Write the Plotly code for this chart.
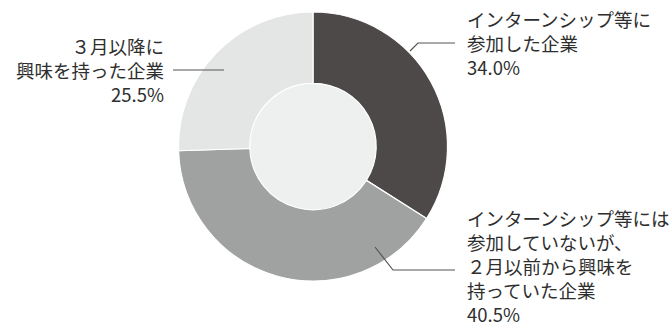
import plotly.graph_objects as go

# Share of companies by timing of interest
labels = [
    "インターンシップ等に<br>参加した企業",
    "インターンシップ等には<br>参加していないが、<br>２月以前から興味を<br>持っていた企業",
    "３月以降に<br>興味を持った企業",
]
values = [34.0, 40.5, 25.5]
colors = ["#4d4948", "#a0a1a1", "#e4e6e6"]

W, H = 670, 330
FONT = "Noto Sans CJK JP"
TEXT = "#2e2e2e"
FS = 18.5


def px(x):
    return x / W


def py(y):
    return 1 - y / H


# donut geometry in pixels
cx, cy, r = 313, 146.5, 134.5
hole = 0.47

fig = go.Figure(
    go.Pie(
        labels=labels,
        values=values,
        sort=False,
        direction="clockwise",
        rotation=0,
        hole=hole,
        marker=dict(colors=colors, line=dict(color="#ffffff", width=1.2)),
        textinfo="none",
        hoverinfo="skip",
        showlegend=False,
        domain=dict(x=[px(cx - r), px(cx + r)], y=[py(cy + r), py(cy - r)]),
    )
)

# light fill inside the hole
fig.add_shape(
    type="circle", xref="paper", yref="paper",
    x0=px(cx - r * hole), x1=px(cx + r * hole),
    y0=py(cy + r * hole), y1=py(cy - r * hole),
    fillcolor="#eef0f0", line=dict(width=0), layer="below",
)

# leader lines (polyline points in pixels)
leaders = [
    [(410, 51), (418, 43), (455, 43)],
    [(375, 247), (393, 270), (455, 270)],
    [(224, 70), (173, 70)],
]
for pts in leaders:
    path = "M " + " L ".join(f"{px(x)},{py(y)}" for x, y in pts)
    fig.add_shape(type="path", xref="paper", yref="paper", path=path,
                  line=dict(color="#555555", width=1.2))

# labels: text, anchor point (px), alignment
label_pos = [
    (465, 4, "left", "left"),
    (465, 203, "left", "left"),
    (166, 31, "right", "right"),
]
for lab, val, (x, y, xa, al) in zip(labels, values, label_pos):
    fig.add_annotation(
        x=px(x), y=py(y), xref="paper", yref="paper",
        xanchor=xa, yanchor="top", align=al, showarrow=False,
        text=f"{lab}<br>{val:.1f}%",
        font=dict(family=FONT, size=FS, color=TEXT),
    )

fig.update_layout(
    width=W, height=H,
    margin=dict(l=0, r=0, t=0, b=0),
    paper_bgcolor="#ffffff",
    plot_bgcolor="#ffffff",
)

fig.write_html("out.html")
